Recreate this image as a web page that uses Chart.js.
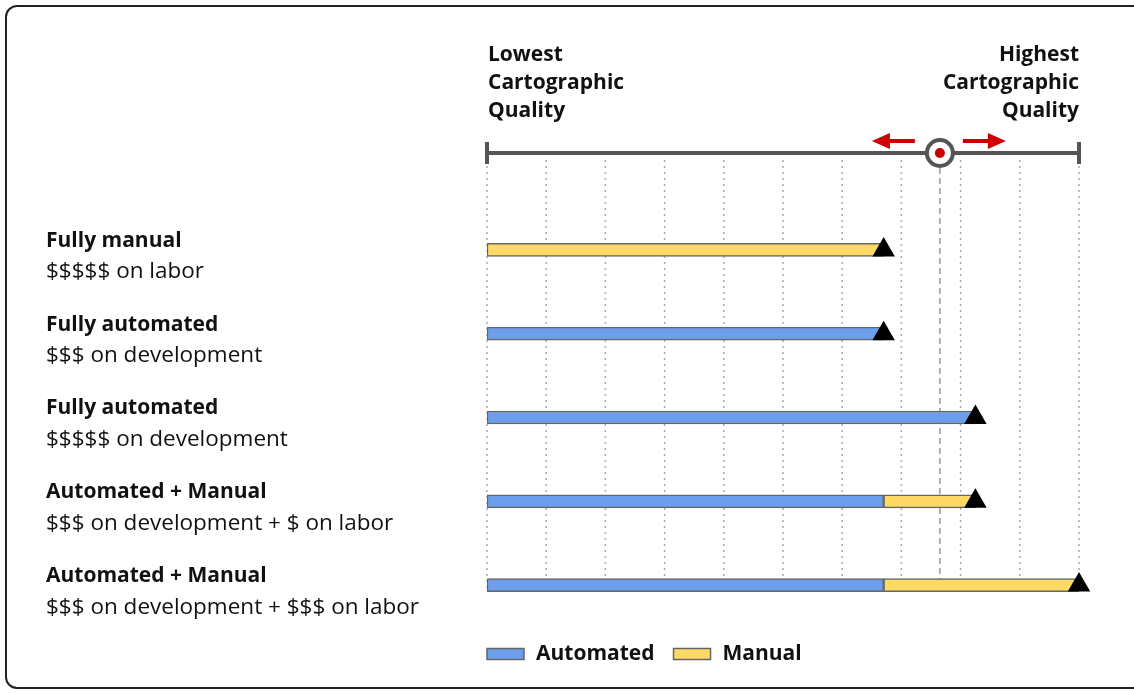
<!DOCTYPE html>
<html><head><meta charset="utf-8">
<script src="https://cdn.jsdelivr.net/npm/chart.js@4"></script>
<style>
html,body{margin:0;padding:0;background:#fff;overflow:hidden;}
#wrap{position:relative;width:1134px;height:693px;overflow:hidden;}
#frame{position:absolute;left:5px;top:5px;width:1140px;height:680px;border:2px solid #222;border-radius:12px;pointer-events:none;}
</style></head><body>
<div id="wrap"><canvas id="c" width="1134" height="693"></canvas><div id="frame"></div></div>
<script>
const categoryTitles = ['Fully manual','Fully automated','Fully automated','Automated + Manual','Automated + Manual'];
const categoryNotes = ['$$$$$ on labor','$$$ on development','$$$$$ on development','$$$ on development + $ on labor','$$$ on development + $$$ on labor'];
const automated = [null,[0,6.7],[0,8.25],[0,6.7],[0,6.7]];
const manual = [[0,6.7],null,null,[6.7,8.25],[6.7,10]];
const quality = [6.7,6.7,8.25,8.25,10];
const target = 7.65;
const scaleMin = 0, scaleMax = 10;
const lowLabel = ['Lowest','Cartographic','Quality'];
const highLabel = ['Highest','Cartographic','Quality'];
const seriesNames = ['Automated','Manual'];

const FONT = '"Open Sans", "Noto Sans", sans-serif';
const BLUE = '#6d9eeb', YELLOW = '#ffd966', EDGE = '#666666', RED = '#cc0000', AXIS = '#555555';

const overlay = {
  id: 'overlay',
  beforeDatasetsDraw(chart) {
    const ctx = chart.ctx, xs = chart.scales.x;
    ctx.save();
    ctx.strokeStyle = '#aaaaaa'; ctx.lineWidth = 1.5; ctx.setLineDash([2, 4]);
    for (let v = scaleMin; v <= scaleMax; v++) {
      const px = xs.getPixelForValue(v);
      ctx.beginPath(); ctx.moveTo(px, 160); ctx.lineTo(px, 588); ctx.stroke();
    }
    const tx = xs.getPixelForValue(target);
    ctx.strokeStyle = '#999999'; ctx.setLineDash([6, 4]);
    ctx.beginPath(); ctx.moveTo(tx, 168); ctx.lineTo(tx, 582); ctx.stroke();
    ctx.restore();
  },
  afterDraw(chart) {
    const ctx = chart.ctx, xs = chart.scales.x, ys = chart.scales.y;
    const x0 = xs.getPixelForValue(scaleMin), x1 = xs.getPixelForValue(scaleMax);
    const ay = 153;
    ctx.save();
    // axis line
    ctx.strokeStyle = AXIS; ctx.lineWidth = 4; ctx.lineCap = 'butt';
    ctx.beginPath(); ctx.moveTo(x0, ay); ctx.lineTo(x1, ay); ctx.stroke();
    ctx.beginPath(); ctx.moveTo(x0, ay - 11); ctx.lineTo(x0, ay + 11); ctx.stroke();
    ctx.beginPath(); ctx.moveTo(x1, ay - 11); ctx.lineTo(x1, ay + 11); ctx.stroke();
    // target circle
    const tx = xs.getPixelForValue(target);
    ctx.beginPath(); ctx.arc(tx, ay, 13, 0, Math.PI * 2);
    ctx.fillStyle = '#fff'; ctx.fill(); ctx.lineWidth = 4; ctx.stroke();
    ctx.beginPath(); ctx.arc(tx, ay, 5, 0, Math.PI * 2); ctx.fillStyle = RED; ctx.fill();
    // arrows
    const arrow = (from, to, yy) => {
      const dir = Math.sign(to - from);
      ctx.strokeStyle = RED; ctx.lineWidth = 4;
      ctx.beginPath(); ctx.moveTo(from, yy); ctx.lineTo(to - dir * 14, yy); ctx.stroke();
      ctx.fillStyle = RED; ctx.beginPath();
      ctx.moveTo(to, yy); ctx.lineTo(to - dir * 18, yy - 8); ctx.lineTo(to - dir * 18, yy + 8); ctx.closePath(); ctx.fill();
    };
    arrow(tx - 25, tx - 68, 141);
    arrow(tx + 23, tx + 66, 141);
    // end labels
    ctx.fillStyle = '#111'; ctx.font = 'bold 21px ' + FONT; ctx.textBaseline = 'middle';
    ctx.textAlign = 'left';
    lowLabel.forEach((t, i) => ctx.fillText(t, x0 + 1, 55 + i * 28));
    ctx.textAlign = 'right';
    highLabel.forEach((t, i) => ctx.fillText(t, x1, 55 + i * 28));
    // category labels
    ctx.textAlign = 'left';
    categoryTitles.forEach((t, i) => {
      const py = ys.getPixelForValue(i);
      ctx.font = 'bold 21px ' + FONT; ctx.fillText(t, 46, py - 9);
      ctx.font = '22.5px ' + FONT; ctx.fillText(categoryNotes[i], 46, py + 22);
    });
    // legend
    let lx = x0;
    const ly = 654;
    ctx.font = 'bold 21px ' + FONT;
    chart.data.datasets.filter(d => d.type !== 'line').forEach(d => {
      ctx.fillStyle = d.backgroundColor; ctx.fillRect(lx, ly - 5.5, 37, 11);
      ctx.strokeStyle = EDGE; ctx.lineWidth = 1.5; ctx.strokeRect(lx, ly - 5.5, 37, 11);
      ctx.fillStyle = '#111'; ctx.fillText(d.label, lx + 49, ly);
      lx += 49 + ctx.measureText(d.label).width + 19;
    });
    ctx.restore();
  }
};

new Chart(document.getElementById('c'), {
  type: 'bar',
  data: {
    labels: categoryTitles,
    datasets: [
      { label: seriesNames[0], data: automated, backgroundColor: BLUE, borderColor: EDGE, borderWidth: 1.5, borderSkipped: false, barThickness: 13, grouped: false, order: 2 },
      { label: seriesNames[1], data: manual, backgroundColor: YELLOW, borderColor: EDGE, borderWidth: 1.5, borderSkipped: false, barThickness: 13, grouped: false, order: 2 },
      { type: 'line', label: 'Quality', data: quality, showLine: false, pointStyle: 'triangle', pointRadius: 13, pointHoverRadius: 13, pointBackgroundColor: '#000', pointBorderWidth: 0, borderWidth: 0, clip: false, order: 0 }
    ]
  },
  options: {
    indexAxis: 'y',
    responsive: false,
    animation: false,
    devicePixelRatio: 1,
    layout: { padding: { left: 487, right: 55, top: 208, bottom: 66 } },
    scales: {
      x: { type: 'linear', min: scaleMin, max: scaleMax, display: false, ticks: { stepSize: 1 } },
      y: { type: 'category', display: false }
    },
    plugins: { legend: { display: false }, tooltip: { enabled: false } }
  },
  plugins: [overlay]
});
</script>
</body></html>
